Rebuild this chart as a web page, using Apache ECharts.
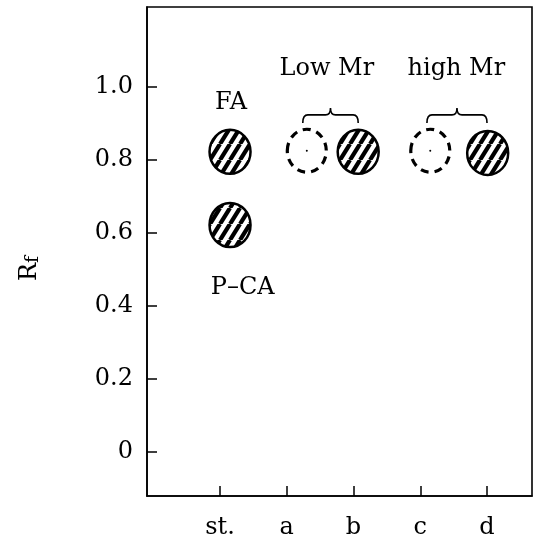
<!DOCTYPE html>
<html>
<head>
<meta charset="utf-8">
<script src="https://cdn.jsdelivr.net/npm/echarts@6/dist/echarts.min.js"></script>
<style>
html,body{margin:0;padding:0;background:#fff;}
#chart{width:538px;height:543px;}
</style>
</head>
<body>
<div id="chart"></div>
<script>
// ---- data ----
const categories = ['st.', 'a', 'b', 'c', 'd'];
const categoryPositions = [1, 2, 3, 4, 5];
const yTicks = [0, 0.2, 0.4, 0.6, 0.8, 1.0];

const spotX = [1.15, 1.15, 2.30, 3.07, 4.15, 5.01];
const spotRf = [0.821, 0.621, 0.824, 0.821, 0.824, 0.818];
const spotKind = ['hatched', 'hatched', 'dashed', 'hatched', 'dashed', 'hatched'];

const labelTexts = ['FA', 'P–CA', 'Low Mr', 'high Mr'];
const labelX = [1.165, 1.34, 2.60, 4.54];
const labelY = [0.956, 0.449, 1.048, 1.048];

const braceStart = [2.24, 4.10];
const braceEnd = [3.07, 5.00];
const braceRf = [0.922, 0.922];

// ---- hatch pattern ----
function makeHatch() {
  const w = 10, h = 16;
  const c = document.createElement('canvas');
  c.width = w; c.height = h;
  const ctx = c.getContext('2d');
  ctx.fillStyle = '#fff';
  ctx.fillRect(0, 0, w, h);
  ctx.strokeStyle = '#000';
  ctx.lineWidth = 4.2;
  for (let k = -1; k <= 1; k++) {
    ctx.beginPath();
    ctx.moveTo(k * w, h);
    ctx.lineTo(k * w + w, 0);
    ctx.stroke();
  }
  return c;
}
const hatch = { image: makeHatch(), repeat: 'repeat' };

const FONT = 'DejaVu Serif';
const chart = echarts.init(document.getElementById('chart'));

const spotData = spotX.map((x, i) => [x, spotRf[i], spotKind[i] === 'hatched' ? 1 : 0]);
const labelData = labelTexts.map((t, i) => [labelX[i], labelY[i], i]);
const braceData = braceStart.map((s, i) => [s, braceEnd[i], braceRf[i]]);

chart.setOption({
  animation: false,
  backgroundColor: '#fff',
  grid: {
    left: 147, right: 6, top: 7, bottom: 47,
    show: true, borderColor: '#000', borderWidth: 1.6, backgroundColor: 'transparent'
  },
  xAxis: {
    type: 'value', min: -0.094, max: 5.674,
    axisLine: { show: true, onZero: false, lineStyle: { color: '#000', width: 1.6 } },
    axisTick: { show: true, inside: true, length: 10, customValues: categoryPositions, lineStyle: { color: '#000', width: 1.5 } },
    axisLabel: {
      customValues: categoryPositions, margin: 20,
      color: '#000', fontFamily: FONT, fontSize: 24,
      formatter: v => categories[Math.round(v) - 1]
    },
    splitLine: { show: false }
  },
  yAxis: {
    type: 'value', min: -0.12, max: 1.217,
    name: 'R{s|f}', nameLocation: 'middle', nameRotate: 90, nameGap: 104,
    nameTextStyle: {
      color: '#000', fontFamily: FONT, fontSize: 24,
      padding: [0, 34, 0, 0],
      rich: { s: { fontFamily: FONT, fontSize: 19, color: '#000', padding: [8, 0, 0, 0] } }
    },
    axisLine: { show: true, onZero: false, lineStyle: { color: '#000', width: 1.6 } },
    axisTick: { show: true, inside: true, length: 10, customValues: yTicks, lineStyle: { color: '#000', width: 1.5 } },
    axisLabel: {
      customValues: yTicks, margin: 14,
      color: '#000', fontFamily: FONT, fontSize: 24,
      formatter: v => (v === 0 ? '0' : v.toFixed(1))
    },
    splitLine: { show: false }
  },
  series: [
    {
      type: 'custom',
      data: spotData,
      renderItem: function (params, api) {
        const p = api.coord([api.value(0), api.value(1)]);
        const hatched = api.value(2) === 1;
        if (hatched) {
          return {
            type: 'ellipse',
            shape: { cx: p[0], cy: p[1], rx: 20.5, ry: 22 },
            style: { fill: hatch, stroke: '#000', lineWidth: 2.5 }
          };
        }
        return {
          type: 'group',
          children: [
            {
              type: 'ellipse',
              shape: { cx: p[0], cy: p[1], rx: 19.5, ry: 21.5 },
              style: { fill: 'none', stroke: '#000', lineWidth: 3.2, lineDash: [8, 6] }
            },
            {
              type: 'circle',
              shape: { cx: p[0], cy: p[1], r: 1 },
              style: { fill: '#000' }
            }
          ]
        };
      },
      z: 3
    },
    {
      type: 'custom',
      data: braceData,
      renderItem: function (params, api) {
        const a = api.coord([api.value(0), api.value(2)]);
        const b = api.coord([api.value(1), api.value(2)]);
        const y = a[1], x1 = a[0], x2 = b[0], xm = (x1 + x2) / 2;
        const d = 'M' + x1 + ',' + (y + 8) +
          ' Q' + x1 + ',' + y + ' ' + (x1 + 5) + ',' + y +
          ' L' + (xm - 5) + ',' + y +
          ' Q' + xm + ',' + y + ' ' + xm + ',' + (y - 7) +
          ' Q' + xm + ',' + y + ' ' + (xm + 5) + ',' + y +
          ' L' + (x2 - 5) + ',' + y +
          ' Q' + x2 + ',' + y + ' ' + x2 + ',' + (y + 8);
        return {
          type: 'path',
          shape: { pathData: d },
          style: { fill: 'none', stroke: '#000', lineWidth: 1.6 }
        };
      },
      z: 3
    },
    {
      type: 'custom',
      data: labelData,
      renderItem: function (params, api) {
        const p = api.coord([api.value(0), api.value(1)]);
        return {
          type: 'text',
          x: p[0], y: p[1],
          style: {
            text: labelTexts[api.value(2)],
            fill: '#000',
            font: '24px "' + FONT + '"',
            align: 'center', verticalAlign: 'middle'
          }
        };
      },
      z: 4
    }
  ]
});
</script>
</body>
</html>
